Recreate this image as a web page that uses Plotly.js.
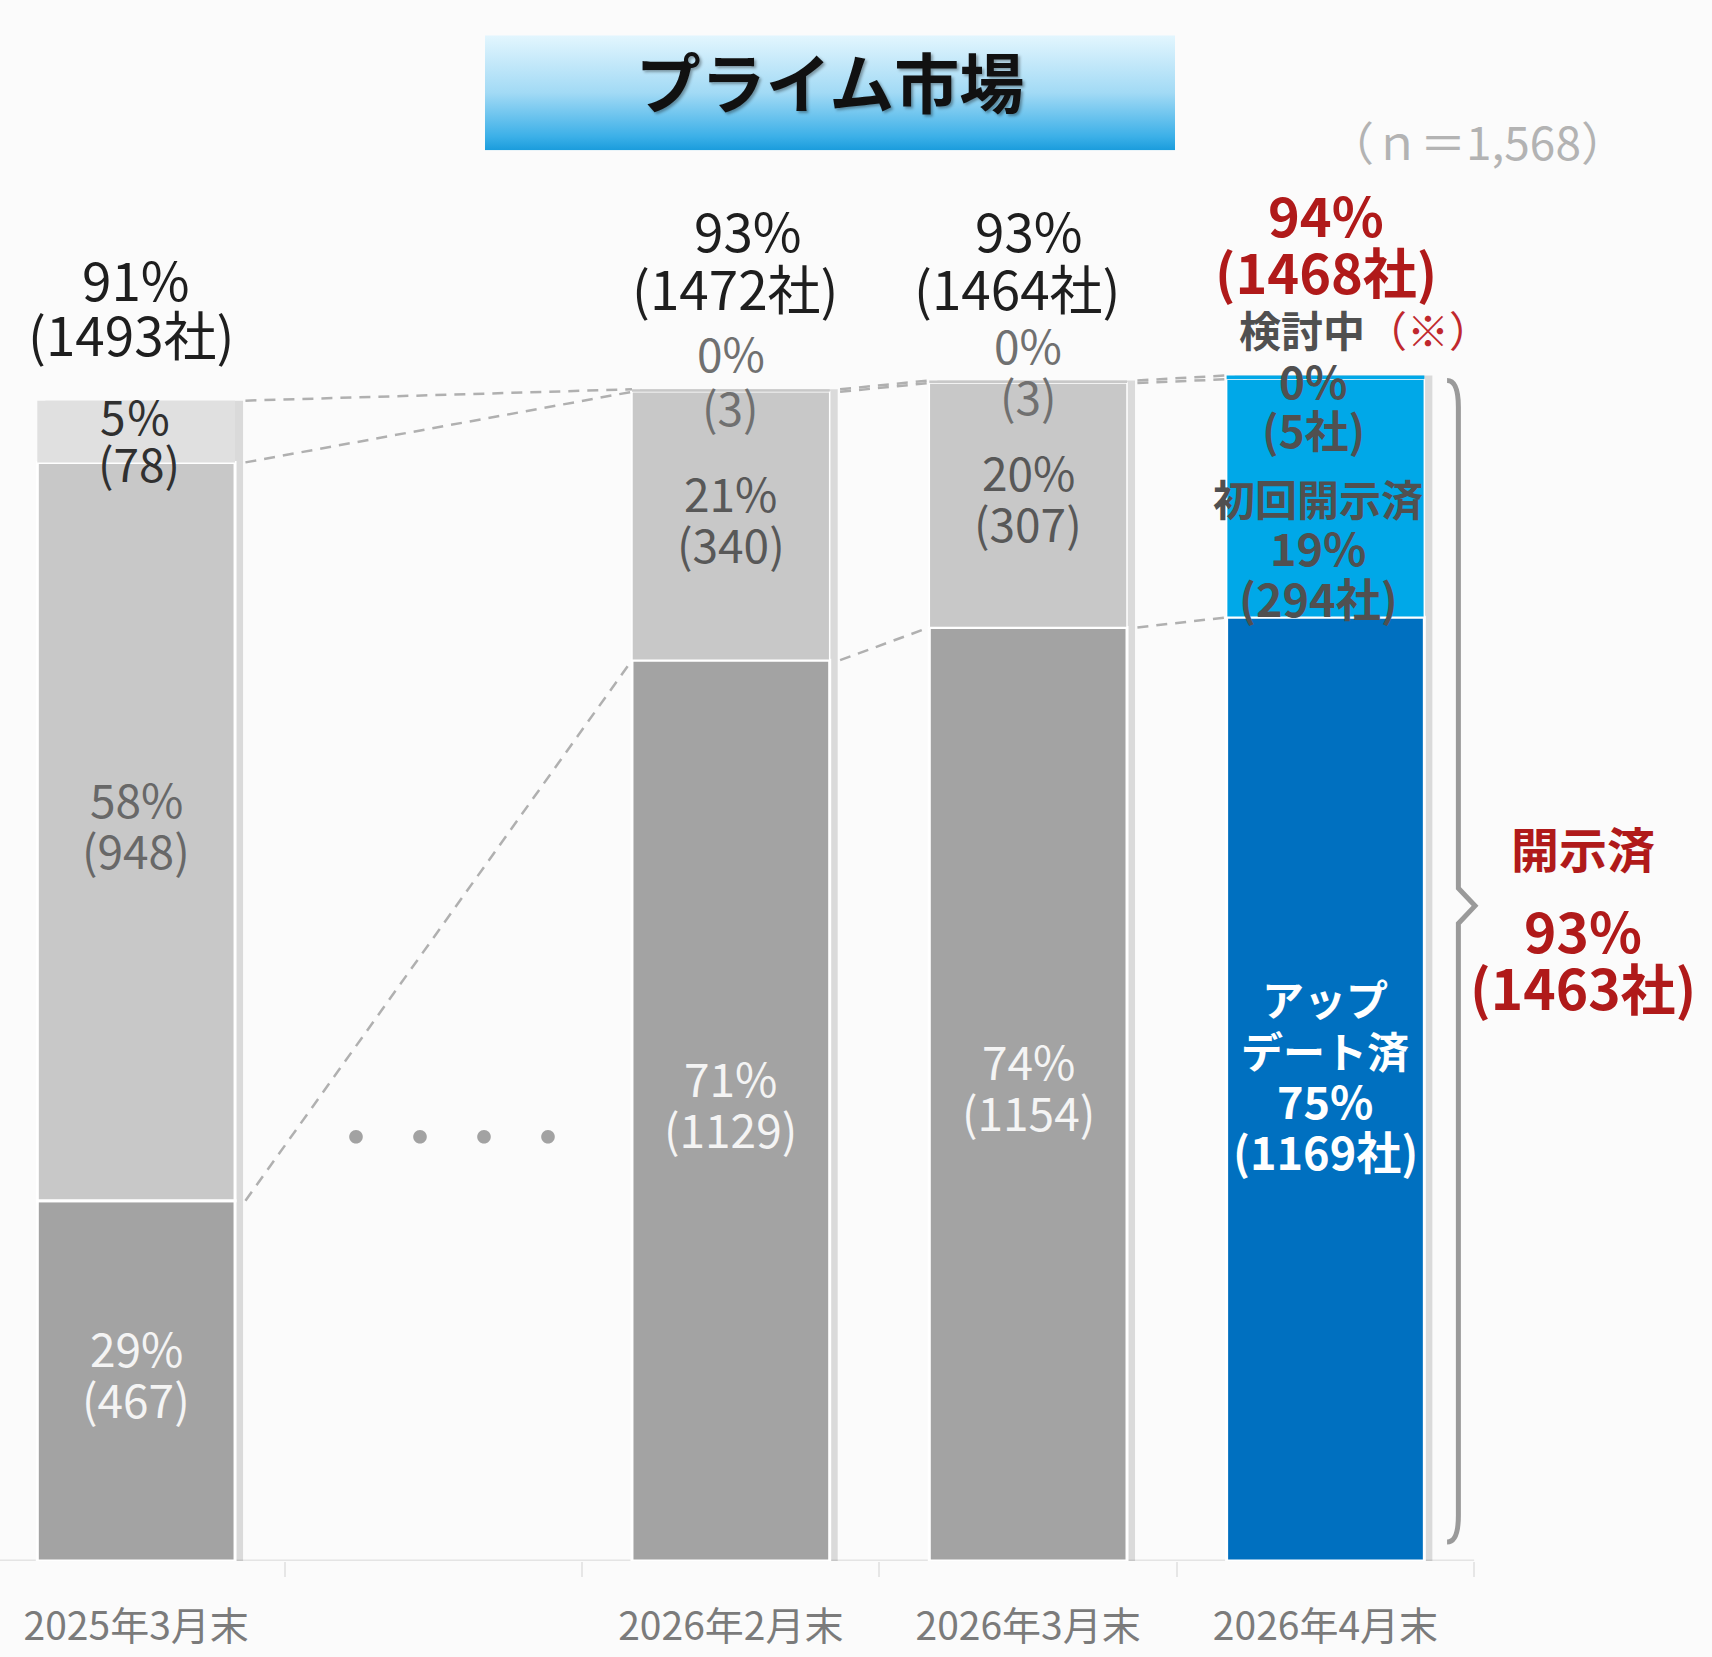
<!DOCTYPE html>
<html><head><meta charset="utf-8">
<script src="https://cdn.plot.ly/plotly-3.0.1.min.js"></script>
<style>html,body{margin:0;padding:0;background:#fbfbfb;}#chart{width:1712px;height:1657px;}</style>
</head><body><div id="chart"></div>
<script>
// ---- data ----
const categories = ['2025年3月末','2026年2月末','2026年3月末','2026年4月末'];
const slotPos = [0, 2, 3, 4];            // gap slot 1 holds the "・・・・"
const updatedShare = [28.6, 71.5, 74.1, 74.9];   // bottom segment (%)
const firstShare   = [58.6, 21.3, 19.4, 18.9];   // middle segment (%)
const reviewShare  = [4.9, 0.2, 0.2, 0.3];       // top segment (%)
const updatedPct = ['29%','71%','74%','75%'];
const updatedCnt = ['467','1129','1154','1169'];
const firstPct   = ['58%','21%','20%','19%'];
const firstCnt   = ['948','340','307','294'];
const reviewPct  = ['5％','0%','0%','0%'];
const reviewCnt  = ['78','3','3','5'];
const totalPct   = ['91%','93%','93%','94%'];
const totalCnt   = ['1493','1472','1464','1468'];
const disclosedPct = '93%';
const disclosedCnt = '1463';
const sampleN = '1,568';

// ---- styling ----
const FONT = '"Noto Sans CJK JP", "Noto Sans", sans-serif';
const bottomColors = ['#a3a3a3','#a3a3a3','#a3a3a3','#0070c0'];
const midColors    = ['#c8c8c8','#c8c8c8','#c8c8c8','#00a8e8'];
const topColors    = ['#e0e0e0','#c8c8c8','#c8c8c8','#00a8e8'];
const BW = 0.665;

const lvl1 = updatedShare.slice();
const lvl2 = updatedShare.map((v,i)=>v+firstShare[i]);
const lvl3 = lvl2.map((v,i)=>v+reviewShare[i]);

const traces = [];
// soft shadow to the right of each bar
traces.push({type:'bar', x:slotPos, y:lvl3, base:0, width:BW, offset:-BW/2+0.027,
  marker:{color:'rgba(0,0,0,0.13)', line:{width:0}}, hoverinfo:'skip', showlegend:false});
traces.push({type:'bar', x:slotPos, y:updatedShare, base:0, width:BW,
  marker:{color:bottomColors, line:{color:'#ffffff', width:3}}, hoverinfo:'skip', showlegend:false});
traces.push({type:'bar', x:slotPos, y:firstShare, base:lvl1, width:BW,
  marker:{color:midColors, line:{color:'#ffffff', width:[3,1.5,1.5,1.5]}}, hoverinfo:'skip', showlegend:false});
traces.push({type:'bar', x:slotPos, y:reviewShare, base:lvl2, width:BW,
  marker:{color:topColors, line:{width:0}}, hoverinfo:'skip', showlegend:false});

// dashed connectors between matching boundaries
const cx = [], cy = [];
for (let k = 0; k < slotPos.length - 1; k++) {
  [lvl1, lvl2, lvl3].forEach(L => {
    cx.push(slotPos[k] + BW/2 + 0.035, slotPos[k+1] - BW/2, null);
    cy.push(L[k], L[k+1], null);
  });
}
traces.push({type:'scatter', mode:'lines', x:cx, y:cy,
  line:{color:'#b0b0b0', width:2.5, dash:'11px,8px'}, hoverinfo:'skip', showlegend:false});

// ---- annotations ----
function A(x, y, text, size, color, opts) {
  const o = opts || {};
  return Object.assign({x:x, y:y, xref:'x', yref:'y', text:text, showarrow:false,
    xanchor:'center', yanchor:'middle',
    font:{family:FONT, size:size, color:color, weight:o.bold?700:400}}, o.extra || {});
}
const ann = [];
// header totals
const hdrTop = [122.5, 160, 151, 162];
const hdrCnt = [67.5, 102, 93, 105];
const hdrXs  = [0, 17, 1, 1];
const hdrXc  = [-5, 5, -11, 1];
for (let i = 0; i < 4; i++) {
  const red = i === 3;
  const col = red ? '#b01a1a' : '#1e1e1e';
  const sz = red ? 54 : 53;
  ann.push(A(slotPos[i], lvl3[i], totalPct[i], sz, col, {bold:red, extra:{yshift:hdrTop[i], xshift:hdrXs[i]}}));
  ann.push(A(slotPos[i], lvl3[i], '(' + totalCnt[i] + '社)', sz, col, {bold:red, extra:{yshift:hdrCnt[i], xshift:hdrXc[i]}}));
}
// top (review) segment labels
ann.push(A(slotPos[0], lvl3[0], reviewPct[0], 46, '#303030', {extra:{yshift:-14.5}}));
ann.push(A(slotPos[0], lvl3[0], '(' + reviewCnt[0] + ')', 46, '#303030', {extra:{yshift:-61.5, xshift:3}}));
ann.push(A(slotPos[1], lvl3[1], reviewPct[1], 46, '#707070', {extra:{yshift:37}}));
ann.push(A(slotPos[1], lvl3[1], '(' + reviewCnt[1] + ')', 46, '#707070', {extra:{yshift:-17}}));
ann.push(A(slotPos[2], lvl3[2], reviewPct[2], 46, '#707070', {extra:{yshift:36}}));
ann.push(A(slotPos[2], lvl3[2], '(' + reviewCnt[2] + ')', 46, '#707070', {extra:{yshift:-15}}));
ann.push(A(slotPos[3], lvl3[3], '検討中<span style="color:#c0282d;font-weight:400">（※）</span>', 42, '#505050', {bold:true, extra:{yshift:47, xshift:40}}));
ann.push(A(slotPos[3], lvl3[3], reviewPct[3], 44, '#505050', {bold:true, extra:{yshift:-5, xshift:-12}}));
ann.push(A(slotPos[3], lvl3[3], '(' + reviewCnt[3] + '社)', 44, '#505050', {bold:true, extra:{yshift:-54, xshift:-12}}));

// middle (first disclosure) segment labels
for (let i = 0; i < 3; i++) {
  const m = (lvl1[i] + lvl2[i]) / 2;
  const col = i === 0 ? '#686868' : '#585858';
  ann.push(A(slotPos[i], m, firstPct[i], 46, col, {extra:{yshift:34}}));
  ann.push(A(slotPos[i], m, '(' + firstCnt[i] + ')', 46, col, {extra:{yshift:-17}}));
}
{
  const m = (lvl1[3] + lvl2[3]) / 2;
  ann.push(A(slotPos[3], m, '初回開示済', 42, '#505050', {bold:true, extra:{yshift:1, xshift:-7}}));
  ann.push(A(slotPos[3], m, firstPct[3], 45, '#505050', {bold:true, extra:{yshift:-48, xshift:-7}}));
  ann.push(A(slotPos[3], m, '(' + firstCnt[3] + '社)', 45, '#505050', {bold:true, extra:{yshift:-99, xshift:-7}}));
}
// bottom (updated) segment labels
for (let i = 0; i < 3; i++) {
  const m = lvl1[i] / 2;
  ann.push(A(slotPos[i], m, updatedPct[i], 46, '#f4f4f4', {extra:{yshift:34}}));
  ann.push(A(slotPos[i], m, '(' + updatedCnt[i] + ')', 46, '#f4f4f4', {extra:{yshift:-17}}));
}
{
  const m = lvl1[3] / 2;
  ann.push(A(slotPos[3], m, 'アップ', 42, '#ffffff', {bold:true, extra:{yshift:92}}));
  ann.push(A(slotPos[3], m, 'デート済', 42, '#ffffff', {bold:true, extra:{yshift:40}}));
  ann.push(A(slotPos[3], m, updatedPct[3], 45, '#ffffff', {bold:true, extra:{yshift:-10.5}}));
  ann.push(A(slotPos[3], m, '(' + updatedCnt[3] + '社)', 45, '#ffffff', {bold:true, extra:{yshift:-61}}));
}
// right side summary
ann.push(A(4.867, 56.7, '開示済', 48, '#b01a1a', {bold:true}));
ann.push(A(4.867, 50.2, disclosedPct, 55, '#b01a1a', {bold:true}));
ann.push(A(4.867, 45.6, '(' + disclosedCnt + '社)', 55, '#b01a1a', {bold:true}));
// n
ann.push(A(4.51, 112.8, '（ｎ＝' + sampleN + '）', 46, '#b3b3b3'));
// gap dots
ann.push(A(1.061, 34.0, '・・・・', 64, '#a2a2a2'));

// ---- title box gradient ----
const svg = "<svg xmlns='http://www.w3.org/2000/svg' width='690' height='115' viewBox='0 0 690 115' preserveAspectRatio='none'>" +
  "<defs><linearGradient id='g' x1='0' y1='0' x2='0' y2='1'>" +
  "<stop offset='0' stop-color='#e3f6fe'/><stop offset='0.5' stop-color='#a2daf5'/>" +
  "<stop offset='0.88' stop-color='#3cb0e8'/><stop offset='1' stop-color='#1a9cdc'/>" +
  "</linearGradient></defs><rect width='690' height='115' fill='url(#g)'/></svg>";
const svgURI = 'data:image/svg+xml;charset=utf-8,' + encodeURIComponent(svg);

const layout = {
  width:1712, height:1657,
  margin:{l:0, r:0, t:0, b:96, pad:0},
  paper_bgcolor:'#fbfbfb', plot_bgcolor:'#fbfbfb',
  barmode:'overlay',
  showlegend:false,
  title:{text:'プライム市場', x:830/1712, xanchor:'center', y:1-85/1657, yanchor:'middle', yref:'container',
    font:{family:FONT, size:65, color:'#111111', weight:700, shadow:'2px 2px 3px rgba(0,0,0,0.35)'}},
  xaxis:{range:[-0.458, 5.3], type:'linear', showgrid:false, zeroline:false, showline:false,
    tickmode:'array', tickvals:slotPos, ticktext:categories, ticks:'',
    tickfont:{family:FONT, size:39, color:'#7b7b7b'}, ticklabelstandoff:39,
    minor:{tickmode:'linear', tick0:0.5, dtick:1, ticks:'outside', ticklen:15, tickwidth:2, tickcolor:'#e6e6e6', showgrid:false},
    fixedrange:true},
  yaxis:{range:[0, 123.9], visible:false, showgrid:false, zeroline:false, fixedrange:true},
  shapes:[
    {type:'line', xref:'x', yref:'y', x0:-0.458, x1:4.5, y0:0, y1:0, layer:'below', line:{color:'#e4e4e4', width:3}},
    {type:'path', xref:'x', yref:'y', layer:'above',
      path:'M 4.409,93.7 Q 4.447,93.7 4.447,91.6 L 4.447,53.4 L 4.503,52.0 L 4.447,50.6 L 4.447,3.6 Q 4.447,1.5 4.409,1.5',
      line:{color:'#9a9a9a', width:5}, fillcolor:'rgba(0,0,0,0)'}
  ],
  images:[{source:svgURI, xref:'x', yref:'y', x:1.173, y:121.1, sizex:2.321, sizey:9.13,
    sizing:'stretch', xanchor:'left', yanchor:'top', layer:'below'}],
  annotations:ann
};
Plotly.newPlot('chart', traces, layout, {staticPlot:true, displayModeBar:false});
</script>
</body></html>
